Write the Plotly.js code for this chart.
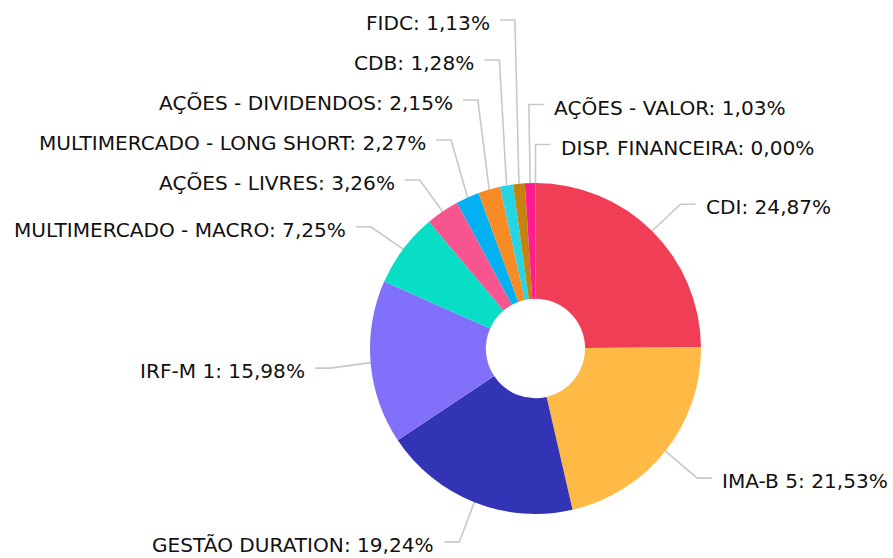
<!DOCTYPE html>
<html><head><meta charset="utf-8">
<script src="https://cdn.plot.ly/plotly-3.0.1.min.js"></script>
<style>html,body{margin:0;padding:0;background:#fff;}#chart{width:893px;height:558px;}</style>
</head><body><div id="chart"></div>
<script>
// ---- data ----
const categories = ["CDI", "IMA-B 5", "GESTÃO DURATION", "IRF-M 1", "MULTIMERCADO - MACRO",
  "AÇÕES - LIVRES", "MULTIMERCADO - LONG SHORT", "AÇÕES - DIVIDENDOS", "CDB", "FIDC",
  "AÇÕES - VALOR", "DISP. FINANCEIRA"];
const values = [24.87, 21.53, 19.24, 15.98, 7.25, 3.26, 2.27, 2.15, 1.28, 1.13, 1.03, 0.00];
const colors = ["#EF3E55", "#FFBA45", "#3333B5", "#8170F9", "#08DEC6", "#F7558F",
  "#03B1F2", "#F78B25", "#26D5E5", "#C6820F", "#FF1E8F", "#9E9E9E"];

// ---- geometry / style ----
const W = 893, H = 558;
const CX = 535.5, CY = 348.5, R = 165.5;
const LABEL_R = R + 40.5, LEG2 = 15, GAP = 8, SPACING = 40, LINE_DY = 2;
const fmt = v => v.toFixed(2).replace('.', ',') + '%';

const total = values.reduce((a, b) => a + b, 0);
let cum = 0;
const items = values.map((v, i) => {
  const mid = (cum + v / 2) / total * 2 * Math.PI;
  cum += v;
  const s = Math.sin(mid), c = Math.cos(mid);
  const right = s >= -0.05;
  const ord = right ? (mid > Math.PI ? mid - 2 * Math.PI : mid) : -mid; // top->bottom order
  return { i, s, c, right, ord, ex: CX + R * s, ey: CY - R * c,
           lx: CX + LABEL_R * s, ly: CY - LABEL_R * c };
});

function distribute(list) {
  list.sort((a, b) => a.ord - b.ord);
  const top = list.filter(d => d.ly < CY), bot = list.filter(d => d.ly >= CY);
  let prev = Infinity;
  for (let k = top.length - 1; k >= 0; k--) { top[k].y = Math.min(top[k].ly, prev - SPACING); prev = top[k].y; }
  prev = -Infinity;
  for (let k = 0; k < bot.length; k++) { bot[k].y = Math.max(bot[k].ly, prev + SPACING); prev = bot[k].y; }
}
distribute(items.filter(d => d.right));
distribute(items.filter(d => !d.right));

const lx = [], ly = [], annotations = [];
items.forEach(d => {
  const dir = d.right ? 1 : -1;
  const y = d.y + LINE_DY;
  lx.push(d.ex, d.lx, d.lx + dir * LEG2, null);
  ly.push(d.ey, y, y, null);
  annotations.push({
    x: d.lx + dir * (LEG2 + GAP), y: y, xref: 'x', yref: 'y', showarrow: false,
    xanchor: d.right ? 'left' : 'right', yanchor: 'middle', yshift: -3,
    text: categories[d.i] + ': ' + fmt(values[d.i]),
    font: { family: 'DejaVu Sans, Verdana, sans-serif', size: 20.1, color: '#111111' }
  });
});

const traces = [
  { type: 'scatter', mode: 'lines', x: lx, y: ly, hoverinfo: 'skip', showlegend: false,
    line: { color: '#c8c8c8', width: 1.6 } },
  { type: 'pie', labels: categories, values: values, sort: false, direction: 'clockwise',
    rotation: 0, hole: 0.3, textinfo: 'none', showlegend: false,
    marker: { colors: colors, line: { width: 0 } },
    domain: { x: [(CX - R) / W, (CX + R) / W], y: [1 - (CY + R) / H, 1 - (CY - R) / H] } }
];
const layout = {
  width: W, height: H, margin: { l: 0, r: 0, t: 0, b: 0 },
  paper_bgcolor: '#fff', plot_bgcolor: '#fff', showlegend: false,
  xaxis: { range: [0, W], visible: false, fixedrange: true, domain: [0, 1] },
  yaxis: { range: [H, 0], visible: false, fixedrange: true, domain: [0, 1] },
  annotations: annotations
};
Plotly.newPlot('chart', traces, layout, { displayModeBar: false, staticPlot: true });
</script></body></html>
